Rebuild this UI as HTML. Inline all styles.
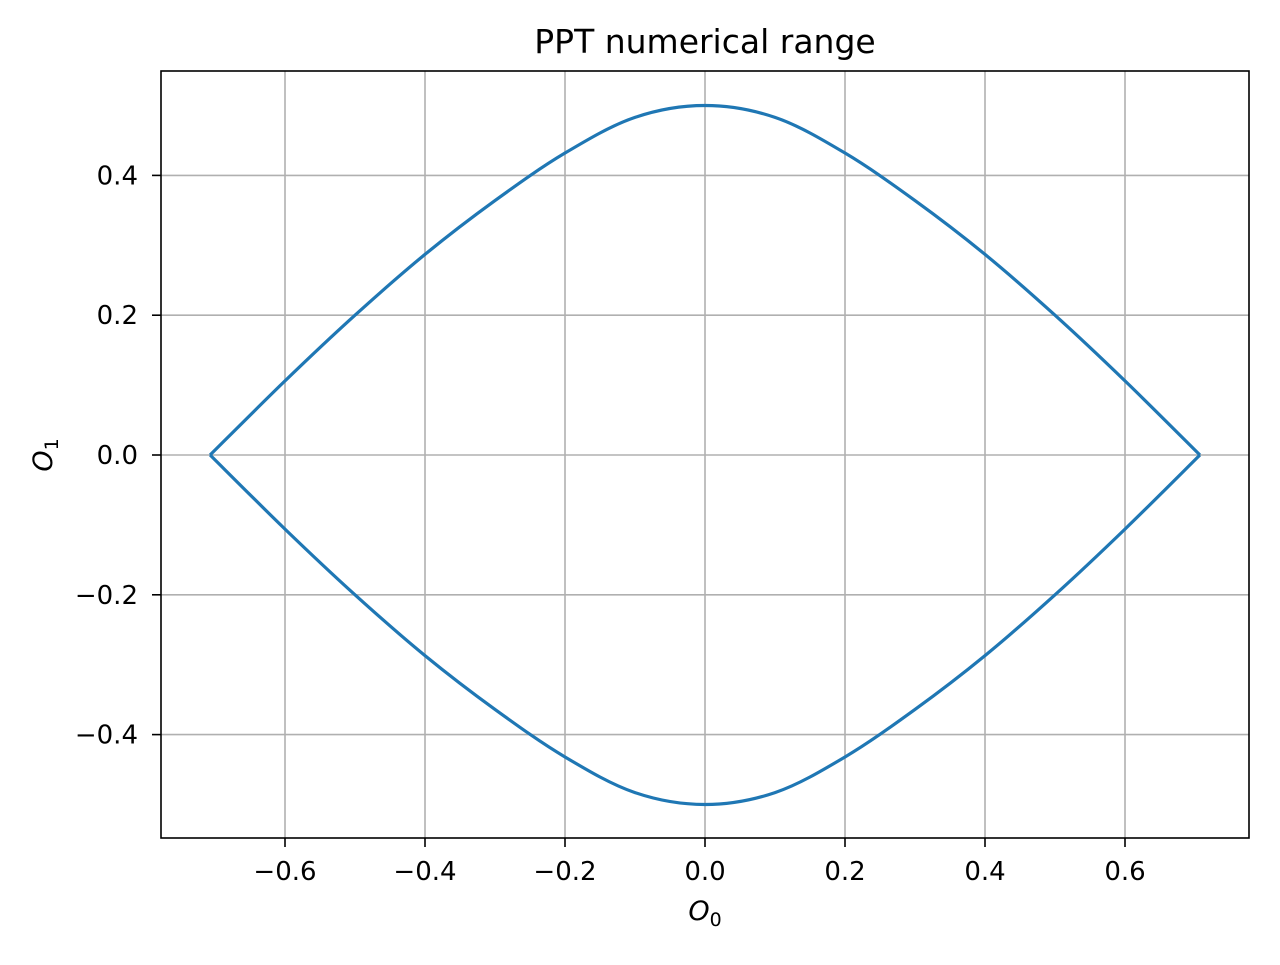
<!DOCTYPE html>
<html><head><meta charset="utf-8"><style>
html,body{margin:0;padding:0;background:#fff;}
svg text{font-family:"DejaVu Sans","Liberation Sans",sans-serif;fill:#000;}
</style></head><body>
<svg id="chart" width="1280" height="960" viewBox="0 0 1280 960">
<rect x="0" y="0" width="1280" height="960" fill="#fff"/>
<g id="grid"></g>
<g id="ticks"></g>
<g id="series"></g>
<rect x="161" y="71" width="1088" height="767" fill="none" stroke="#000" stroke-width="1.6"/>
<text x="705" y="53" font-size="33" text-anchor="middle">PPT numerical range</text>
<text x="705" y="920" font-size="27" text-anchor="middle"><tspan font-style="italic">O</tspan><tspan font-size="19" dy="6">0</tspan></text>
<text x="0" y="0" font-size="27" text-anchor="middle" transform="translate(52,455) rotate(-90)"><tspan font-style="italic">O</tspan><tspan font-size="19" dy="6">1</tspan></text>
</svg>
<script>
const xTicks=[-0.6,-0.4,-0.2,0.0,0.2,0.4,0.6];
const xTickLabels=["\u22120.6","\u22120.4","\u22120.2","0.0","0.2","0.4","0.6"];
const yTicks=[-0.4,-0.2,0.0,0.2,0.4];
const yTickLabels=["\u22120.4","\u22120.2","0.0","0.2","0.4"];
const upperX=[-0.707,-0.6,-0.5,-0.4,-0.3,-0.2,-0.1,0,0.1,0.2,0.3,0.4,0.5,0.6,0.707];
const upperY=[0,0.106,0.2,0.287,0.364,0.432,0.483,0.5,0.483,0.432,0.364,0.287,0.2,0.106,0];
const lowerX=[-0.707,-0.6,-0.5,-0.4,-0.3,-0.2,-0.1,0,0.1,0.2,0.3,0.4,0.5,0.6,0.707];
const lowerY=[0,-0.106,-0.2,-0.287,-0.364,-0.432,-0.483,-0.5,-0.483,-0.432,-0.364,-0.287,-0.2,-0.106,0];
const NS="http://www.w3.org/2000/svg";
const L=161,R=1249,T=71,B=838;
function sx(v){return 705+v*700;}
function sy(v){return 455-v*699;}
function mk(tag,attrs,parent){const e=document.createElementNS(NS,tag);for(const k in attrs)e.setAttribute(k,attrs[k]);parent.appendChild(e);return e;}
const grid=document.getElementById('grid'),ticks=document.getElementById('ticks'),series=document.getElementById('series');
xTicks.forEach((v,i)=>{
  const x=sx(v);
  const g=mk('line',{x1:x,x2:x,y1:T,y2:B,stroke:'#b0b0b0','stroke-width':1.6},grid);
  
  
  const t=mk('line',{x1:x,x2:x,y1:B,y2:B+9,stroke:'#000','stroke-width':1.6},ticks);
  
  
  const l=mk('text',{x:x,y:B+42,'font-size':26,'text-anchor':'middle'},ticks);
  l.textContent=xTickLabels[i];
  
  
});
yTicks.forEach((v,i)=>{
  const y=sy(v);
  const g=mk('line',{x1:L,x2:R,y1:y,y2:y,stroke:'#b0b0b0','stroke-width':1.6},grid);
  
  
  const t=mk('line',{x1:L-9,x2:L,y1:y,y2:y,stroke:'#000','stroke-width':1.6},ticks);
  
  
  const l=mk('text',{x:L-23,y:y+9,'font-size':26,'text-anchor':'end'},ticks);
  l.textContent=yTickLabels[i];
  
  
});
function path(xs,ys){
  const p=xs.map((x,i)=>[sx(x),sy(ys[i])]);
  let d='M'+p[0][0]+','+p[0][1];
  for(let i=0;i<p.length-1;i++){
    const p0=p[Math.max(0,i-1)],p1=p[i],p2=p[i+1],p3=p[Math.min(p.length-1,i+2)];
    const c1=[p1[0]+(p2[0]-p0[0])/6,p1[1]+(p2[1]-p0[1])/6];
    const c2=[p2[0]-(p3[0]-p1[0])/6,p2[1]-(p3[1]-p1[1])/6];
    d+=' C'+c1+' '+c2+' '+p2;
  }
  return d;
}
const up=mk('path',{d:path(upperX,upperY),fill:'none',stroke:'#1f77b4','stroke-width':3.2},series);


const lo=mk('path',{d:path(lowerX,lowerY),fill:'none',stroke:'#1f77b4','stroke-width':3.2},series);


</script>
</body></html>
